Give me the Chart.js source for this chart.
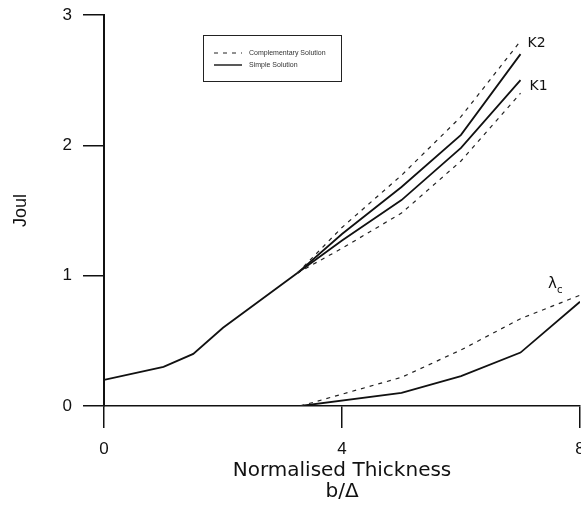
<!DOCTYPE html>
<html>
<head>
<meta charset="utf-8">
<script src="https://cdn.jsdelivr.net/npm/chart.js@4.4.1/dist/chart.umd.min.js"></script>
<style>
  html, body { margin: 0; padding: 0; background: #fff; }
  #c { display: block; }
</style>
</head>
<body>
<canvas id="c" width="581" height="508"></canvas>
<script>
// shared curve below the split
const xBase = [0, 1, 1.5, 2, 3.25];
const yBase = [0.2, 0.3, 0.4, 0.6, 1.02];

// K1 / K2 branches
const xBranch = [3.25, 4, 5, 6, 7];
const k2Comp = [1.02, 1.37, 1.77, 2.22, 2.8];
const k2Simple = [1.02, 1.32, 1.68, 2.08, 2.7];
const k1Simple = [1.02, 1.27, 1.58, 1.98, 2.5];
const k1Comp = [1.02, 1.21, 1.48, 1.88, 2.4];

// lambda_c branches
const xLambda = [3.3, 5, 6, 7, 8];
const lambdaComp = [0, 0.22, 0.43, 0.67, 0.85];
const lambdaSimple = [0, 0.1, 0.23, 0.41, 0.8];

const xTicks = [0, 4, 8];
const yTicks = [0, 1, 2, 3];

function pts(xs, ys) {
    return xs.map((v, i) => ({ x: v, y: ys[i] }));
}

function solid(data) {
    return { data: data, borderColor: '#111', borderWidth: 1.8, pointRadius: 0, tension: 0, fill: false };
}
function dashed(data) {
    return { data: data, borderColor: '#222', borderWidth: 1.2, borderDash: [4, 5], pointRadius: 0, tension: 0, fill: false };
}

// legend box and curve labels
const annotate = {
    id: 'annotate',
    afterDatasetsDraw(chart) {
        const { ctx, scales: { x, y } } = chart;
        ctx.save();
        ctx.strokeStyle = '#222';
        ctx.lineWidth = 1;
        ctx.strokeRect(203.5, 35.5, 138, 46);

        ctx.lineWidth = 1;
        ctx.setLineDash([4, 5]);
        ctx.beginPath(); ctx.moveTo(214, 53); ctx.lineTo(242, 53); ctx.stroke();
        ctx.setLineDash([]);
        ctx.lineWidth = 1.5;
        ctx.beginPath(); ctx.moveTo(214, 65); ctx.lineTo(242, 65); ctx.stroke();

        ctx.fillStyle = '#333';
        ctx.font = '7px "Liberation Sans"';
        ctx.textBaseline = 'middle';
        ctx.textAlign = 'left';
        ctx.fillText('Complementary Solution', 249, 53);
        ctx.fillText('Simple Solution', 249, 65);

        ctx.fillStyle = '#111';
        ctx.font = '14px "DejaVu Sans"';
        const k2x = x.getPixelForValue(xBranch[xBranch.length - 1]);
        const k2y = y.getPixelForValue(k2Comp[k2Comp.length - 1]);
        ctx.fillText('K2', k2x + 7, k2y + 2);
        const k1y = y.getPixelForValue(k1Simple[k1Simple.length - 1]);
        ctx.fillText('K1', k2x + 9, k1y + 6);

        const lx = x.getPixelForValue(xLambda[xLambda.length - 1]);
        const ly = y.getPixelForValue(lambdaComp[lambdaComp.length - 1]);
        ctx.font = '15px "DejaVu Sans"';
        ctx.fillText('λ', lx - 32, ly - 11);
        ctx.font = '10px "DejaVu Sans"';
        ctx.fillText('c', lx - 23, ly - 5);
        ctx.restore();
    }
};

const ctx = document.getElementById('c').getContext('2d');
const chart = new Chart(ctx, {
    type: 'line',
    data: {
        datasets: [
            solid(pts(xBase, yBase)),
            dashed(pts(xBranch, k2Comp)),
            solid(pts(xBranch, k2Simple)),
            solid(pts(xBranch, k1Simple)),
            dashed(pts(xBranch, k1Comp)),
            dashed(pts(xLambda, lambdaComp)),
            solid(pts(xLambda, lambdaSimple))
        ]
    },
    options: {
        responsive: false,
        animation: false,
        layout: { padding: { top: 15, right: 1, left: 0, bottom: 0 } },
        plugins: { legend: { display: false }, tooltip: { enabled: false } },
        scales: {
            x: {
                type: 'linear',
                min: 0,
                max: 8,
                afterBuildTicks(scale) { scale.ticks = xTicks.map(v => ({ value: v })); },
                afterFit(scale) { scale.height = 102; scale.paddingLeft = 0; scale.paddingRight = 0; },
                grid: { drawOnChartArea: false, tickLength: 22, color: '#111', lineWidth: 1.5 },
                border: { color: '#111', width: 1.5 },
                ticks: { padding: 11, color: '#111', font: { family: 'Liberation Sans', size: 17 } },
                title: {
                    display: true,
                    text: ['Normalised Thickness', 'b/Δ'],
                    color: '#111',
                    font: { family: 'DejaVu Sans', size: 20, lineHeight: 1.05 },
                    padding: { top: 0, bottom: 6 }
                }
            },
            y: {
                min: 0,
                max: 3,
                afterBuildTicks(scale) { scale.ticks = yTicks.map(v => ({ value: v })); },
                afterFit(scale) { scale.width = 104; scale.paddingTop = 0; scale.paddingBottom = 0; },
                grid: { drawOnChartArea: false, tickLength: 21, color: '#111', lineWidth: 1.5 },
                border: { color: '#111', width: 2 },
                ticks: { padding: 11, color: '#111', font: { family: 'Liberation Sans', size: 17 } },
                title: {
                    display: true,
                    text: 'Joul',
                    color: '#111',
                    font: { family: 'Liberation Sans', size: 18 },
                    padding: { top: 10, bottom: 0 }
                }
            }
        }
    },
    plugins: [annotate]
});
</script>
</body>
</html>
